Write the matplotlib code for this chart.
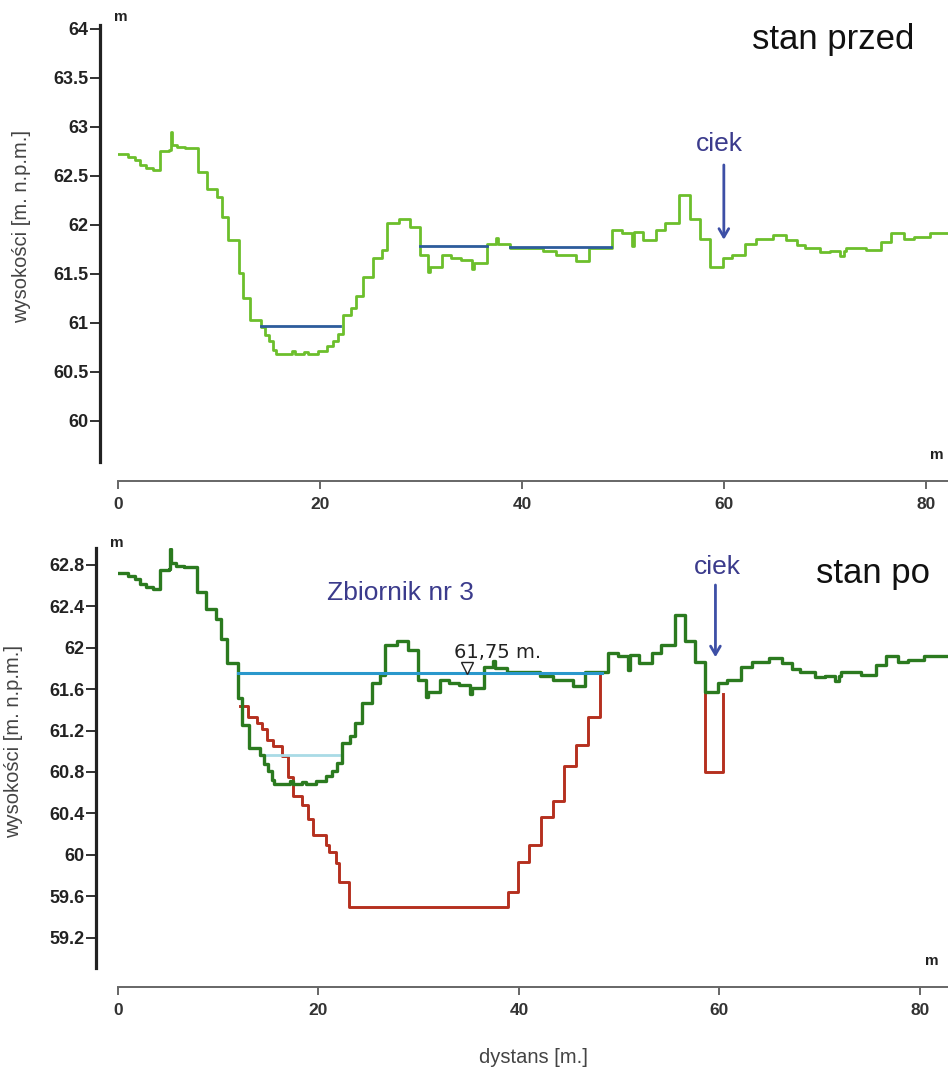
import matplotlib
matplotlib.use("Agg")
import matplotlib.pyplot as plt
from matplotlib.ticker import FuncFormatter

plt.rcParams['font.family'] = ['Liberation Sans', 'DejaVu Sans']

# terrain profile (step breakpoints: distance [m], elevation [m n.p.m.])
profile_x = [0.0, 1.0, 1.7, 2.2, 2.8, 3.5, 4.2, 5.1, 5.2, 5.3, 5.8, 6.6, 7.9, 8.8, 9.8,
             10.3, 10.9, 12.0, 12.4, 13.1, 14.2, 14.6, 15.0, 15.4, 15.6, 17.2, 17.5,
             18.4, 18.8, 19.8, 20.7, 21.3, 21.8, 22.3, 23.1, 23.6, 24.3, 25.3, 26.1,
             26.6, 27.8, 28.9, 29.9, 30.7, 30.9, 32.1, 33.0, 34.0, 35.1, 35.3, 36.5,
             37.4, 37.6, 38.8, 42.1, 43.4, 45.4, 46.6, 48.9, 49.9, 50.9, 51.1, 52.0,
             53.3, 54.2, 55.6, 56.6, 57.6, 58.6, 59.9, 60.8, 62.1, 63.2, 64.9, 66.2,
             67.2, 68.0, 69.5, 70.5, 71.5, 71.9, 72.1, 74.1, 75.6, 76.6, 77.8, 78.8,
             80.4, 82.8]
profile_y = [62.72, 62.69, 62.66, 62.61, 62.58, 62.56, 62.75, 62.76, 62.95, 62.82, 62.79,
             62.78, 62.54, 62.37, 62.28, 62.08, 61.85, 61.51, 61.25, 61.03, 60.96, 60.88,
             60.81, 60.72, 60.68, 60.71, 60.68, 60.70, 60.68, 60.71, 60.76, 60.81, 60.89,
             61.08, 61.15, 61.27, 61.47, 61.66, 61.74, 62.02, 62.06, 61.98, 61.69, 61.52,
             61.57, 61.69, 61.66, 61.64, 61.55, 61.61, 61.81, 61.87, 61.80, 61.76, 61.73,
             61.69, 61.63, 61.76, 61.95, 61.92, 61.78, 61.93, 61.85, 61.95, 62.02, 62.31,
             62.06, 61.86, 61.57, 61.66, 61.69, 61.81, 61.86, 61.90, 61.85, 61.79, 61.76,
             61.72, 61.73, 61.68, 61.73, 61.76, 61.74, 61.83, 61.92, 61.86, 61.88, 61.92,
             61.92]

# water surfaces before works
water_before = [(14.2, 22.0, 60.97), (29.9, 36.5, 61.78), (38.8, 48.8, 61.77)]

# designed reservoir bottom (stan po)
dig_x = [12.2, 13.0, 13.9, 14.4, 14.9, 15.5, 16.4, 17.0, 17.5, 18.4, 19.0, 19.5, 20.7,
         21.0, 21.7, 22.0, 23.0, 38.9, 39.9, 41.0, 42.2, 43.4, 44.5, 45.7, 46.9, 48.1]
dig_y = [61.44, 61.33, 61.27, 61.21, 61.11, 61.05, 60.95, 60.75, 60.57, 60.48, 60.35,
         60.19, 60.10, 60.03, 59.92, 59.74, 59.50, 59.64, 59.93, 60.10, 60.37, 60.52,
         60.86, 61.06, 61.33, 61.75]
ditch_x = [58.6, 58.6, 60.4, 60.4]
ditch_y = [61.57, 60.80, 60.80, 61.55]

reservoir_level = 61.75
reservoir_span = (12.0, 48.3)
old_pond = (14.2, 22.0, 60.96)

W, H = 948, 1077
fig = plt.figure(figsize=(W / 100, H / 100), dpi=100)


def box(left, top, right, bottom):
    return [left / W, 1 - bottom / H, (right - left) / W, (bottom - top) / H]


def fx(px):
    return px / W


def fy(py):
    return 1 - py / H


def style_axes(ax, xmax, ylo, yhi, yticks, left_out, bottom_out):
    ax.set_xlim(0, xmax)
    ax.set_ylim(ylo, yhi)
    for s in ['top', 'right']:
        ax.spines[s].set_visible(False)
    ax.spines['left'].set_position(('outward', left_out))
    ax.spines['left'].set_linewidth(2.3)
    ax.spines['left'].set_color('#222222')
    ax.spines['bottom'].set_position(('outward', bottom_out))
    ax.spines['bottom'].set_linewidth(1.4)
    ax.spines['bottom'].set_color('#666666')
    ax.set_xticks([0, 20, 40, 60, 80])
    ax.set_yticks(yticks)
    ax.yaxis.set_major_formatter(FuncFormatter(lambda v, p: '%g' % round(v, 2)))
    ax.tick_params(axis='y', direction='out', length=7, width=1.3, color='#222222',
                   pad=1, labelsize=13, labelcolor='#222222')
    ax.tick_params(axis='x', direction='out', length=6, width=1.4, color='#666666',
                   pad=5, labelsize=12.5, labelcolor='#333333')
    for lab in ax.get_xticklabels() + ax.get_yticklabels():
        lab.set_fontweight('bold')
    ax.set_ylabel('wysokości [m. n.p.m.]', fontsize=14.5, color='#444444')
    ax.patch.set_alpha(0)


# ---- top: stan przed ----
ax1 = fig.add_axes(box(118, 25, 948, 462))
style_axes(ax1, 82.2, 59.58, 64.04, [60, 60.5, 61, 61.5, 62, 62.5, 63, 63.5, 64], 13, 14)
ax1.yaxis.set_label_coords(-0.105, 0.54)
ax1.plot(profile_x, profile_y, drawstyle='steps-post', color='#6cbf2c', lw=2.0, zorder=3)
for x0, x1, lvl in water_before:
    ax1.plot([x0, x1], [lvl, lvl], color='#2d5c9c', lw=2.0, zorder=4)
ax1.annotate('', xy=(60.0, 61.82), xytext=(60.0, 62.64),
             arrowprops=dict(arrowstyle='->,head_length=0.6,head_width=0.35',
                             color='#3d4fa6', lw=2))
ax1.text(59.6, 62.83, 'ciek', fontsize=19, color='#3b3b8c', ha='center', va='center')

fig.text(fx(833), fy(40), 'stan przed', fontsize=25, ha='center', va='center', color='#111111')
fig.text(fx(121), fy(17), 'm', fontsize=11, fontweight='bold', ha='center', va='center', color='#222222')
fig.text(fx(937), fy(455), 'm', fontsize=11, fontweight='bold', ha='center', va='center', color='#222222')

# ---- bottom: stan po ----
ax2 = fig.add_axes(box(118, 548, 948, 968))
style_axes(ax2, 82.8, 58.91, 62.96,
           [59.2, 59.6, 60, 60.4, 60.8, 61.2, 61.6, 62, 62.4, 62.8], 16, 14)
ax2.yaxis.set_label_coords(-0.115, 0.54)
ax2.plot(profile_x, profile_y, drawstyle='steps-post', color='#2b7a1f', lw=2.4, zorder=3)
ax2.plot(dig_x, dig_y, drawstyle='steps-post', color='#b5301f', lw=2.1, zorder=2)
ax2.plot(ditch_x, ditch_y, color='#b5301f', lw=2.1, zorder=2)
ax2.plot(reservoir_span, [reservoir_level, reservoir_level], color='#2a98cc', lw=2.2, zorder=4)
ax2.plot(old_pond[:2], [old_pond[2], old_pond[2]], color='#a9dbe6', lw=2.0, zorder=2)
ax2.plot([34.8], [reservoir_level + 0.055], marker='v', markersize=8, mfc='white',
         mec='#222222', mew=1.0, zorder=5)
ax2.text(37.9, 61.95, '61,75 m.', fontsize=14, family='DejaVu Sans', color='#222222',
         ha='center', va='center')
ax2.text(28.2, 62.53, 'Zbiornik nr 3', fontsize=19, color='#3b3b8c', ha='center', va='center')
ax2.annotate('', xy=(59.6, 61.88), xytext=(59.6, 62.63),
             arrowprops=dict(arrowstyle='->,head_length=0.6,head_width=0.35',
                             color='#3d4fa6', lw=2))
ax2.text(59.75, 62.78, 'ciek', fontsize=19, color='#3b3b8c', ha='center', va='center')
ax2.set_xlabel('dystans [m.]', fontsize=14.5, color='#444444', labelpad=22)

fig.text(fx(873), fy(573), 'stan po', fontsize=25, ha='center', va='center', color='#111111')
fig.text(fx(117), fy(543), 'm', fontsize=11, fontweight='bold', ha='center', va='center', color='#222222')
fig.text(fx(932), fy(961), 'm', fontsize=11, fontweight='bold', ha='center', va='center', color='#222222')

fig.savefig('out.png', dpi=100, facecolor='white')
